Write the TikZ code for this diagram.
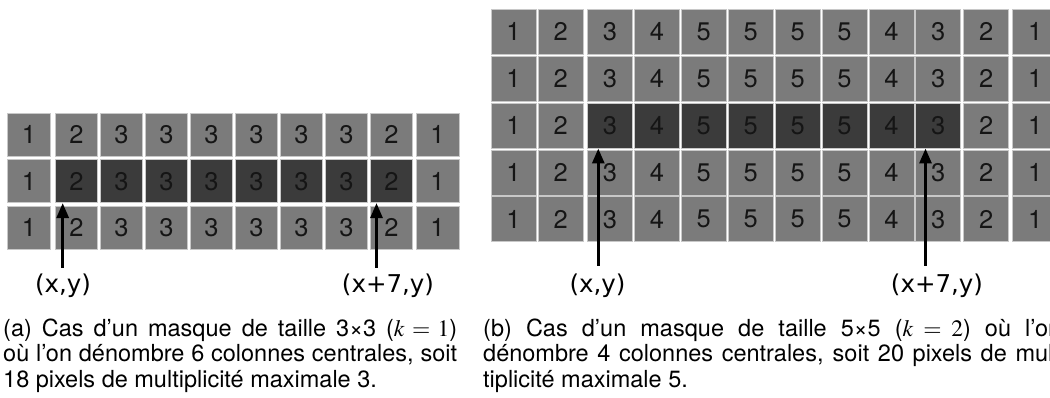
\documentclass[tikz,border=0pt]{standalone}
\usepackage{mathptmx}
\usepackage{fontspec}
\setmainfont{TeX Gyre Heros}
\newfontfamily\lblfont{DejaVu Sans}
\usetikzlibrary{arrows.meta}
\definecolor{cellL}{HTML}{7B7B7B}
\definecolor{cellD}{HTML}{3B3B3B}
\definecolor{cellEdge}{HTML}{C8C8C8}
\definecolor{digit}{HTML}{151515}
\begin{document}
\begin{tikzpicture}[x=1pt,y=-1pt,
  cellbox/.style={draw=cellEdge, line width=0.8pt, inner sep=0pt, text=digit,
    font=\fontsize{25.5}{27}\selectfont},
  smallcell/.style={cellbox, minimum width=42.8pt, minimum height=43pt},
  bigcell/.style={cellbox, minimum width=45pt, minimum height=45pt},
  ptr/.style={line width=3pt, -{Triangle[length=15pt,width=12pt]}},
  lbl/.style={anchor=base, inner sep=0pt, font=\lblfont\fontsize{24.5}{26}\selectfont},
  captxt/.style={anchor=base west, inner sep=0pt, align=left,
    font=\fontsize{23.5}{25.5}\selectfont}]
\useasboundingbox (0,0) rectangle (1050,398);
\clip (0,0) rectangle (1050,398);
% ---- left grid (3x3 mask)
\foreach \r/\cy in {1/134.8,2/181.2,3/227.5}{
  \foreach \c/\cx/\n in {1/29/1,2/76.4/2,3/121.4/3,4/166.4/3,5/211.4/3,6/256.4/3,7/301.4/3,8/346.4/3,9/391.4/2,10/437.5/1}{
    \pgfmathtruncatemacro\dk{(\r==2)&&(\c>1)&&(\c<10)}
    \ifnum\dk=1 \def\cf{cellD}\else\def\cf{cellL}\fi
    \node[smallcell, fill=\cf] (L-\r-\c) at (\cx,\cy) {\n};
  }
}
% ---- right grid (5x5 mask)
\foreach \r/\cy in {1/31.8,2/78.7,3/125.6,4/172.5,5/219.3}{
  \foreach \c/\cx/\n in {1/513.5/1,2/560.7/2,3/610/3,4/656.9/4,5/703.8/5,6/750.7/5,7/797.6/5,8/844.5/5,9/891.4/4,10/938.3/3,11/986.1/2,12/1035.2/1}{
    \pgfmathtruncatemacro\dk{(\r==3)&&(\c>2)&&(\c<11)}
    \ifnum\dk=1 \def\cf{cellD}\else\def\cf{cellL}\fi
    \node[bigcell, fill=\cf] (R-\r-\c) at (\cx,\cy) {\n};
  }
}
% ---- arrows
\coordinate (aL1) at (62.7,268);
\coordinate (aL2) at (376.5,268);
\coordinate (aR1) at (598.3,266);
\coordinate (aR2) at (925.5,266);
\draw[ptr] (aL1) -- (aL1 |- L-2-2.south);
\draw[ptr] (aL2) -- (aL2 |- L-2-9.south);
\draw[ptr] (aR1) -- (aR1 |- R-3-3.south);
\draw[ptr] (aR2) -- (aR2 |- R-3-10.south);
% ---- labels
\node[lbl] (tL1) at (63,292.5) {(x,y)};
\node[lbl] (tL2) at (388,292.5) {(x+7,y)};
\node[lbl] (tR1) at (597.5,292.5) {(x,y)};
\node[lbl] (tR2) at (937,292.5) {(x+7,y)};
% ---- captions
\node[captxt] (capA) at (3,387) {%
\makebox[454pt][s]{(a) Cas d’un masque de taille 3×3 ($k=1$)}\\
\makebox[454pt][s]{où l’on dénombre 6 colonnes centrales, soit}\\
18 pixels de multiplicité maximale 3.};
\node[captxt] (capB) at (483,387) {%
\makebox[578pt][s]{(b) Cas d’un masque de taille 5×5 ($k=2$) où l’on}\\
\makebox[578pt][s]{dénombre 4 colonnes centrales, soit 20 pixels de mul-}\\
tiplicité maximale 5.};
\end{tikzpicture}
\end{document}
